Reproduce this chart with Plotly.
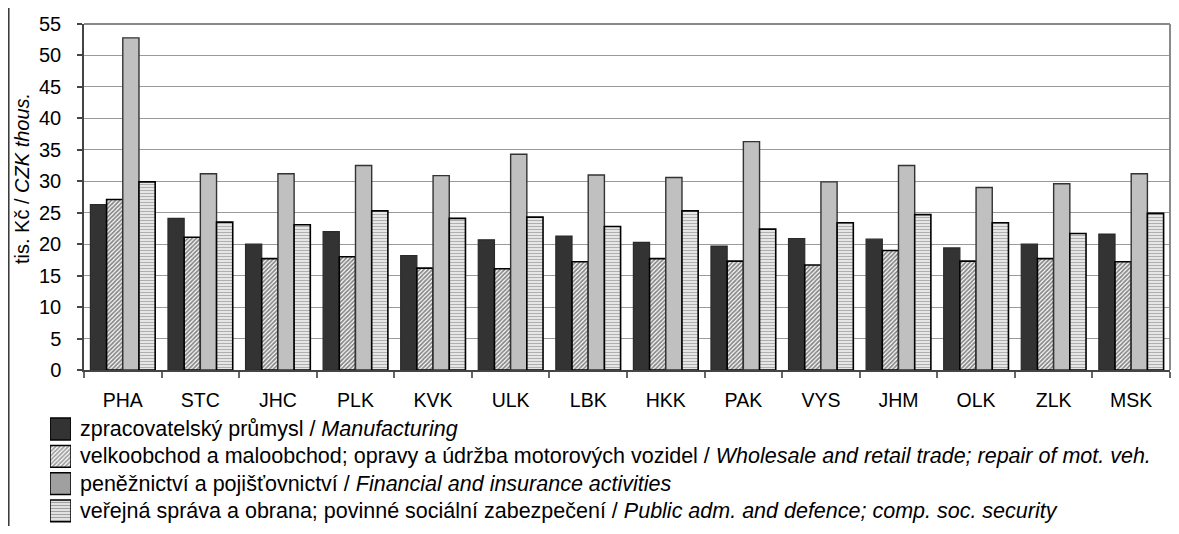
import plotly.graph_objects as go

regions = ["PHA", "STC", "JHC", "PLK", "KVK", "ULK", "LBK", "HKK", "PAK", "VYS", "JHM", "OLK", "ZLK", "MSK"]
manufacturing = [26.3, 24.1, 20.0, 22.0, 18.2, 20.7, 21.3, 20.3, 19.7, 20.9, 20.8, 19.4, 20.0, 21.6]
wholesale = [27.1, 21.1, 17.7, 18.0, 16.2, 16.1, 17.2, 17.7, 17.3, 16.7, 19.0, 17.3, 17.7, 17.2]
finance = [52.8, 31.2, 31.2, 32.5, 30.9, 34.3, 31.0, 30.6, 36.3, 29.9, 32.5, 29.0, 29.6, 31.2]
public = [29.9, 23.5, 23.1, 25.3, 24.1, 24.3, 22.8, 25.3, 22.4, 23.4, 24.7, 23.4, 21.7, 24.9]

names = [
    "zpracovatelský průmysl / <i>Manufacturing</i>",
    "velkoobchod a maloobchod; opravy a údržba motorových vozidel / <i>Wholesale and retail trade; repair of mot. veh.</i>",
    "peněžnictví a pojišťovnictví / <i>Financial and insurance activities</i>",
    "veřejná správa a obrana; povinné sociální zabezpečení / <i>Public adm. and defence; comp. soc. security</i>",
]
y_title = "tis. Kč / <i>CZK thous.</i>"

FONT = "Liberation Sans, Arial, sans-serif"

# series styles
fills = ["#333333", "white", "#c0c0c0", "white"]
edges = ["#2a2a2a", "black", "#333333", "black"]
edge_w = [1.2, 1.6, 1.4, 1.6]
shapes_ = ["", "/", "", "-"]
fgs = ["#333333", "#111111", "#c0c0c0", "#606060"]
sol = [0.5, 0.6, 0.5, 0.55]

# The page body has an 8px margin: size the figure so it fits the window exactly.
OFF = 8
W, H = 1179 - 2 * OFF, 534 - 2 * OFF

def fx(p):  # page pixel -> paper x
    return (p - OFF) / W

def fy(p):  # page pixel -> paper y
    return 1 - (p - OFF) / H

fig = go.Figure()
series = [manufacturing, wholesale, finance, public]
for i, vals in enumerate(series):
    marker = dict(color=fills[i], line=dict(color=edges[i], width=edge_w[i]))
    if shapes_[i]:
        marker["pattern"] = dict(shape=shapes_[i], fgcolor=fgs[i], bgcolor=fills[i],
                                 size=3, solidity=sol[i])
    fig.add_trace(go.Bar(x=regions, y=vals, name=names[i], marker=marker,
                         xaxis="x", yaxis="y", showlegend=False))

# legend swatches (drawn as a small bar subplot)
row0, rstep = 429, 27.3
sw_top, sw_bot = 414, 526
fig.add_trace(go.Bar(
    y=[0, 1, 2, 3], x=[1, 1, 1, 1], orientation="h", width=0.8,
    xaxis="x2", yaxis="y2", showlegend=False, hoverinfo="skip",
    marker=dict(color=["#333333", "white", "#a0a0a0", "white"],
                line=dict(color="black", width=1.5),
                pattern=dict(shape=["", "/", "", "-"],
                             fgcolor=["#333333", "#111111", "#a0a0a0", "#606060"],
                             bgcolor=["#333333", "white", "#a0a0a0", "white"],
                             size=3, solidity=[0.5, 0.6, 0.5, 0.55])),
))

fig.update_layout(
    width=W, height=H,
    margin=dict(l=0, r=0, t=0, b=0, pad=0, autoexpand=False),
    paper_bgcolor="white", plot_bgcolor="white",
    font=dict(family=FONT, size=20, color="black"),
    barmode="group", bargap=0.165, bargroupgap=0,
    showlegend=False,
    xaxis=dict(domain=[fx(84), fx(1170)], anchor="y",
               type="category", showgrid=False, showline=True, linecolor="#444444", linewidth=1.5,
               ticks="outside", tickson="boundaries", ticklen=6, tickcolor="#666666", tickwidth=1.5,
               ticklabelstandoff=12, tickfont=dict(size=19.5)),
    yaxis=dict(domain=[fy(370), fy(24)], anchor="x",
               range=[0, 55], dtick=5, showgrid=True, gridcolor="#9a9a9a", gridwidth=1.2,
               showline=True, linecolor="#444444", linewidth=1.5, zeroline=False,
               ticks="outside", ticklen=5, tickcolor="#444444", tickwidth=1.5,
               ticklabelstandoff=12, tickfont=dict(size=20)),
    xaxis2=dict(domain=[fx(50), fx(71)], anchor="y2", range=[0, 1], visible=False, fixedrange=True),
    yaxis2=dict(domain=[0, fy(sw_top)], anchor="x2",
                range=[(sw_bot - row0) / rstep, (sw_top - row0) / rstep],
                visible=False, fixedrange=True),
)

# plot area frame (top and right, gray)
fig.add_shape(type="line", xref="x domain", yref="y domain", x0=0, x1=1, y0=1, y1=1,
              line=dict(color="#8a8a8a", width=2))
fig.add_shape(type="line", xref="x domain", yref="y domain", x0=1, x1=1, y0=0, y1=1,
              line=dict(color="#8a8a8a", width=2))
# outer left frame line
fig.add_shape(type="line", xref="paper", yref="paper", x0=0.8 / W, x1=0.8 / W, y0=0, y1=1,
              line=dict(color="#333333", width=1.5))

fig.add_annotation(text=y_title, xref="paper", yref="paper",
                   x=fx(22), y=fy(179), textangle=-90, showarrow=False,
                   font=dict(family=FONT, size=20, color="black"),
                   xanchor="center", yanchor="middle")

for i, nm in enumerate(names):
    fig.add_annotation(text=nm, xref="paper", yref="paper",
                       x=fx(78), y=fy(row0 + rstep * i), showarrow=False,
                       xanchor="left", yanchor="middle", align="left",
                       font=dict(family=FONT, size=21.5, color="black"))

fig.write_html("out.html")
